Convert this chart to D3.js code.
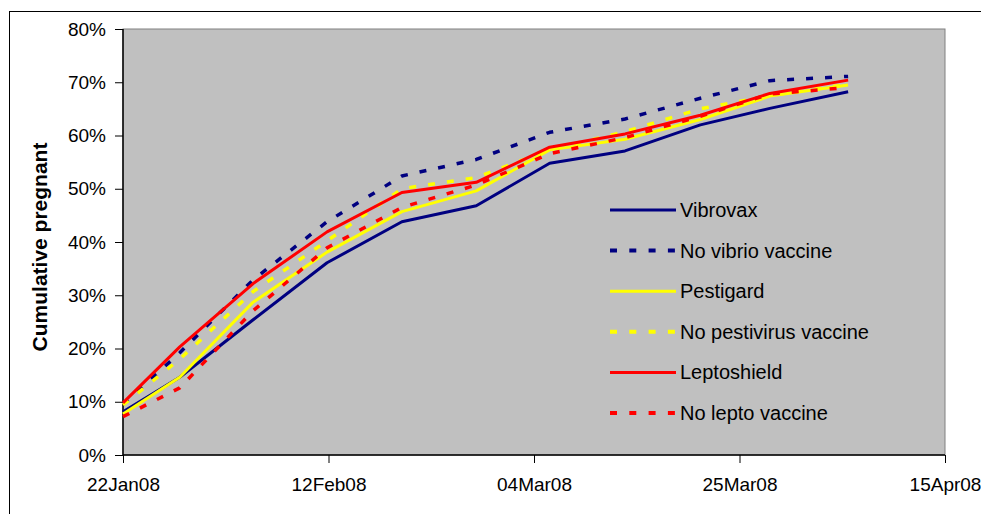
<!DOCTYPE html>
<html><head><meta charset="utf-8">
<script src="https://cdn.jsdelivr.net/npm/d3@7"></script>
<style>
html,body{margin:0;padding:0;background:#fff;overflow:hidden;}
svg{display:block;font-family:"Liberation Sans",Arial,sans-serif;}
</style></head>
<body>
<svg id="chart" width="981" height="514"></svg>
<script>
// Days after 22Jan08 for each observation
const dayOffsets = [0, 5.8, 13.3, 20.85, 28.5, 36.1, 43.6, 51.3, 59.0, 66.1, 74.1];
const xTickDays = [0, 21, 42, 63, 84];
const xTickLabels = ["22Jan08", "12Feb08", "04Mar08", "25Mar08", "15Apr08"];
const yTicks = [0, 0.1, 0.2, 0.3, 0.4, 0.5, 0.6, 0.7, 0.8];

const seriesNames = ["Vibrovax", "No vibrio vaccine", "Pestigard", "No pestivirus vaccine", "Leptoshield", "No lepto vaccine"];
const vibrovax      = [0.081, 0.146, 0.254, 0.361, 0.438, 0.468, 0.548, 0.571, 0.620, 0.651, 0.682];
const noVibrio      = [0.095, 0.192, 0.329, 0.438, 0.524, 0.555, 0.606, 0.631, 0.670, 0.703, 0.711];
const pestigard     = [0.077, 0.146, 0.287, 0.381, 0.457, 0.496, 0.573, 0.593, 0.630, 0.674, 0.695];
const noPesti       = [0.094, 0.180, 0.307, 0.402, 0.500, 0.521, 0.573, 0.607, 0.650, 0.675, 0.696];
const leptoshield   = [0.098, 0.203, 0.322, 0.419, 0.493, 0.512, 0.578, 0.603, 0.638, 0.679, 0.704];
const noLepto       = [0.072, 0.126, 0.271, 0.389, 0.465, 0.507, 0.566, 0.596, 0.636, 0.678, 0.690];
const seriesValues = [vibrovax, noVibrio, pestigard, noPesti, leptoshield, noLepto];
const seriesColors = ["#000080", "#000080", "#FFFF00", "#FFFF00", "#FF0000", "#FF0000"];
const seriesDashed = [false, true, false, true, false, true];

const svg = d3.select("#chart");
const L = 123, R = 945, T = 29, B = 455;

// outer frame
svg.append("rect").attr("x", 9.5).attr("y", 11.5).attr("width", 1000).attr("height", 1000)
  .attr("fill", "none").attr("stroke", "#000").attr("stroke-width", 1);

const x = d3.scaleLinear().domain([0, 84]).range([L, R]);
const y = d3.scaleLinear().domain([0, 0.8]).range([B, T]);

// plot area
svg.append("rect").attr("x", L).attr("y", T).attr("width", R - L).attr("height", B - T)
  .attr("fill", "#C0C0C0").attr("stroke", "#808080").attr("stroke-width", 1);

// axes
const yAxis = d3.axisLeft(y).tickValues(yTicks).tickFormat(d3.format(".0%")).tickSize(8).tickPadding(9);
const gy = svg.append("g").attr("transform", `translate(${L},0)`).call(yAxis);
const xAxis = d3.axisBottom(x).tickValues(xTickDays).tickFormat((d, i) => xTickLabels[i]).tickSize(8).tickPadding(15);
const gx = svg.append("g").attr("transform", `translate(0,${B})`).call(xAxis);
[gx, gy].forEach(g => {
  g.selectAll(".domain").attr("stroke", "#000").attr("stroke-width", 1.5);
  g.selectAll(".tick line").attr("stroke", "#000").attr("stroke-width", 1);
  g.selectAll("text").attr("font-size", 19).attr("fill", "#000")
    .attr("font-family", "'Liberation Sans', Arial, sans-serif");
});
gy.select(".domain").attr("d", `M0,${T}V${B}`);
gx.select(".domain").attr("d", `M${L},0H${R}`);

// y title
svg.append("text").attr("transform", "translate(47,247) rotate(-90)")
  .attr("text-anchor", "middle").attr("font-size", 21).attr("font-weight", "bold")
  .text("Cumulative pregnant");

// lines
const line = d3.line().x((d, i) => x(dayOffsets[i])).y(d => y(d));
seriesValues.forEach((vals, k) => {
  svg.append("path").attr("d", line(vals)).attr("fill", "none")
    .attr("stroke", seriesColors[k])
    .attr("stroke-width", seriesDashed[k] ? 3.5 : 3)
    .attr("stroke-dasharray", seriesDashed[k] ? "7,12" : null)
    .attr("stroke-linejoin", "round");
});

// legend
const lg = svg.append("g");
const legY0 = 210, legDY = 40.6;
seriesNames.forEach((name, k) => {
  const yy = legY0 + k * legDY;
  lg.append("line").attr("x1", 610).attr("x2", 676).attr("y1", yy).attr("y2", yy)
    .attr("stroke", seriesColors[k]).attr("stroke-width", seriesDashed[k] ? 4 : 3)
    .attr("stroke-dasharray", seriesDashed[k] ? "7,12.3" : null);
  lg.append("text").attr("x", 680).attr("y", yy + 7).attr("font-size", 20).attr("fill", "#000").text(name);
});
</script>
</body></html>
